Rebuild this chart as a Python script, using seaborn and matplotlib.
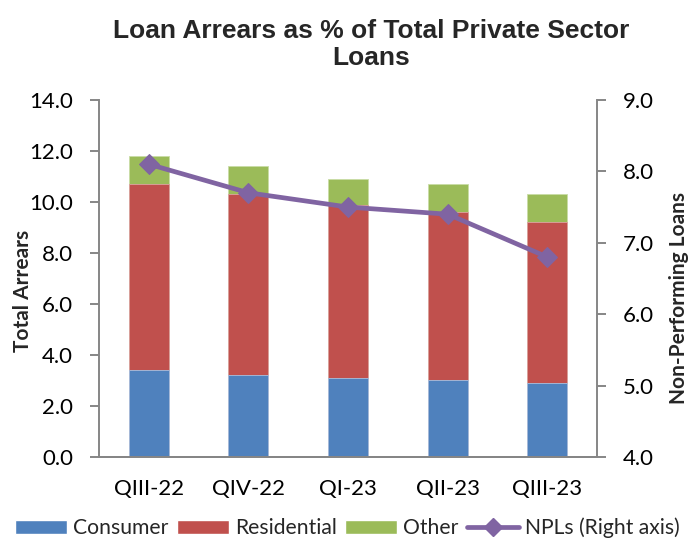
import numpy as np
import pandas as pd
import matplotlib
matplotlib.use("Agg")
import matplotlib.pyplot as plt
import seaborn as sns
from matplotlib.patches import Patch
from matplotlib.lines import Line2D

quarters = ["QIII-22", "QIV-22", "QI-23", "QII-23", "QIII-23"]
consumer = [3.4, 3.2, 3.1, 3.0, 2.9]
residential = [7.3, 7.1, 6.8, 6.6, 6.3]
other = [1.1, 1.1, 1.0, 1.1, 1.1]
npls = [8.1, 7.7, 7.5, 7.4, 6.8]

sns.set_theme(style="white")
plt.rcParams["font.family"] = ["Lato", "DejaVu Sans"]

c_cons = "#4F81BD"
c_res = "#C0504D"
c_oth = "#9BBB59"
c_npl = "#8064A2"
grey = "#868686"

df = pd.DataFrame({"quarter": quarters, "consumer": consumer,
                   "residential": residential, "other": other, "npl": npls})
df["res_top"] = df["consumer"] + df["residential"]
df["oth_top"] = df["res_top"] + df["other"]

fig = plt.figure(figsize=(6.92, 5.38), dpi=100)
ax = fig.add_axes([0.143, 0.1506, 0.720, 0.6636])

w = 0.4
sns.barplot(data=df, x="quarter", y="oth_top", color=c_oth, width=w,
            saturation=1, ax=ax, edgecolor="#c9dca6", linewidth=0.6)
sns.barplot(data=df, x="quarter", y="res_top", color=c_res, width=w,
            saturation=1, ax=ax, edgecolor="#dca3a1", linewidth=0.6)
sns.barplot(data=df, x="quarter", y="consumer", color=c_cons, width=w,
            saturation=1, ax=ax, edgecolor="#a9c1e0", linewidth=0.6)

ax.set_xlim(-0.5, len(quarters) - 0.5)
ax.set_ylim(0, 14)
ax.set_yticks(np.arange(0, 14.01, 2))
ax.set_yticklabels([f"{v:.1f}" for v in np.arange(0, 14.01, 2)])
ax.set_xlabel("")
ax.set_ylabel("Total Arrears", fontsize=15, fontweight="bold")
ax.yaxis.label.set_va("center")
ax.yaxis.set_label_coords(-0.152, 0.465)

ax2 = ax.twinx()
sns.lineplot(x=np.arange(len(quarters)), y=df["npl"], ax=ax2, color=c_npl,
             linewidth=3.4, marker="D", markersize=10, markeredgecolor=c_npl)
ax2.set_ylim(4, 9)
ax2.set_yticks(np.arange(4, 9.01, 1))
ax2.set_yticklabels([f"{v:.1f}" for v in np.arange(4, 9.01, 1)])
ax2.set_ylabel("Non-Performing Loans", fontsize=15, fontweight="bold")
ax2.yaxis.label.set_va("center")
ax2.yaxis.set_label_coords(1.165, 0.445)
ax2.set_xlim(-0.5, len(quarters) - 0.5)

for a in (ax, ax2):
    a.spines["top"].set_visible(False)
    for s in ["left", "right", "bottom"]:
        a.spines[s].set_color(grey)
        a.spines[s].set_linewidth(1.4)
    a.tick_params(axis="y", length=6.5, width=1.4, color=grey, labelsize=16,
                  labelcolor="black", direction="out", pad=12)
    a.grid(False)
ax.tick_params(axis="x", length=0, labelsize=16, labelcolor="black", pad=16)
ax2.spines["left"].set_visible(False)
ax.spines["right"].set_visible(False)

fig.text(0.537, 0.918, "Loan Arrears as % of Total Private Sector\nLoans",
         ha="center", va="center", fontsize=19, fontweight="bold",
         family=["Liberation Sans", "DejaVu Sans"], linespacing=1.17)

handles = [Patch(facecolor=c_cons, label="Consumer"),
           Patch(facecolor=c_res, label="Residential"),
           Patch(facecolor=c_oth, label="Other"),
           Line2D([0], [0], color=c_npl, lw=3.4, marker="D", markersize=9,
                  label="NPLs (Right axis)")]
fig.legend(handles=handles, loc="center", bbox_to_anchor=(0.502, 0.019), ncol=4,
           frameon=False, fontsize=15.2, handlelength=2.45, handleheight=0.65,
           columnspacing=0.4, handletextpad=0.3, borderaxespad=0)

fig.savefig("out.png", dpi=100)
